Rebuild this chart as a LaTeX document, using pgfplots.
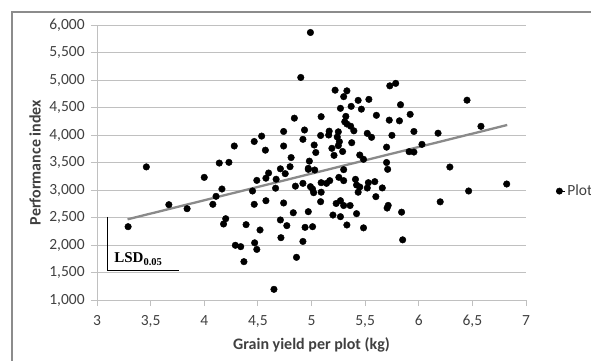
\documentclass[border=0pt]{standalone}
\usepackage{fontspec}
\setmainfont{Carlito}
\newfontfamily\lsdfont{Liberation Serif}
\usepackage{pgfplots}
\usepackage{pgfplotstable}
\pgfplotsset{compat=1.18}
\definecolor{gridgray}{HTML}{C0C0C0}
\definecolor{framegray}{HTML}{8C8C8C}
\definecolor{trendgray}{HTML}{8A8A8A}
\definecolor{ticktext}{HTML}{404040}
\pgfplotstableread{
x y
3.29 2333
3.46 3420
3.67 2733
3.84 2660
4.00 3230
4.08 2740
4.11 2885
4.165 3018
4.20 2478
4.18 2382
4.14 3490
4.23 3503
4.28 3800
4.29 1995
4.34 1970
4.37 1697
4.39 2370
4.47 2040
4.49 1920
4.52 2273
4.466 2740
4.45 2982
4.575 2805
4.49 3175
4.665 3033
4.65 1194
4.715 2133
4.71 2455
4.74 2764
4.77 2352
4.83 2587
4.86 1776
4.85 3070
4.92 2065
4.94 2321
5.01 2333
4.97 2606
5.085 2788
4.99 3061
5.01 3018
5.02 2951
5.09 2960
5.20 2545
5.27 2515
5.23 2755
5.27 2806
5.30 2718
5.36 2718
5.33 2364
5.42 2570
5.485 2312
5.435 2960
5.45 3055
5.52 3036
5.60 2879
5.66 3038
5.705 2672
5.715 2720
5.84 2597
5.85 2094
6.20 2785
6.465 2982
6.82 3109
4.466 3882
4.535 3980
4.57 3724
4.74 4064
4.74 3800
4.81 3590
4.84 4306
4.71 3385
4.80 3424
4.755 3297
4.60 3309
4.575 3215
4.67 3196
4.97 3394
4.92 3121
5.09 3133
5.14 3121
5.17 3170
4.98 3525
4.97 3376
5.03 3364
4.99 5864
4.90 5046
5.22 4815
5.33 4803
5.30 4697
5.435 4630
5.535 4648
5.73 4894
5.785 4939
6.45 4633
5.27 4485
5.37 4521
5.465 4470
5.83 4551
5.09 4333
5.32 4339
5.605 4358
5.725 4270
5.82 4258
5.92 4376
5.31 4240
5.33 4200
5.365 4160
5.395 4076
4.935 4091
4.92 3921
5.165 4070
5.25 4058
5.16 4000
5.085 3991
5.24 3964
5.26 3879
5.025 3818
5.04 3682
5.19 3758
5.21 3630
5.25 3806
5.29 3700
5.375 3860
5.52 4030
5.56 3958
5.75 3994
5.955 4064
6.18 4033
6.58 4158
5.45 3636
5.485 3558
5.70 3779
5.91 3697
5.955 3690
6.03 3830
6.29 3418
5.70 3500
5.71 3376
5.30 3370
5.255 3230
5.30 3170
5.41 3194
5.42 3091
5.53 3133
5.59 3152
}\plotdata
\begin{document}
\begin{tikzpicture}[x=1pt,y=1pt]
\useasboundingbox (0,0) rectangle (591,360);
\clip (0,0) rectangle (591,360);
\draw[color=framegray, line width=1.2pt] (12,-5) -- (12,348) -- (600,348);
\begin{axis}[
  at={(97pt,60pt)}, anchor=south west,
  scale only axis, width=429pt, height=275pt,
  xmin=3, xmax=7, ymin=1000, ymax=6000,
  xtick={3,3.5,4,4.5,5,5.5,6,6.5,7},
  xticklabels={3,{3,5},4,{4,5},5,{5,5},6,{6,5},7},
  ytick={1000,1500,2000,2500,3000,3500,4000,4500,5000,5500,6000},
  yticklabels={{1,000},{1,500},{2,000},{2,500},{3,000},{3,500},{4,000},{4,500},{5,000},{5,500},{6,000}},
  axis x line*=bottom, axis y line*=left,
  axis line style={-, gridgray, line width=0.9pt},
  ymajorgrids, grid style={gridgray, line width=0.9pt},
  tick style={gridgray, line width=0.9pt}, tick align=outside,
  major tick length=6pt,
  ticklabel style={font=\fontsize{15.5}{15.5}\selectfont, text=ticktext},
  xticklabel style={yshift=-5.6pt},
  yticklabel style={xshift=-2.8pt},
  xlabel={\textbf{Grain yield per plot (kg)}},
  ylabel={\textbf{Performance index}},
  every axis x label/.style={at={(axis description cs:0.5,-0.165)}, anchor=center,
    font=\fontsize{16}{16}\selectfont, text=ticktext},
  every axis y label/.style={at={(axis description cs:-0.1445,0.5)}, anchor=center, rotate=90,
    font=\fontsize{16}{16}\selectfont, text=ticktext},
  legend style={at={(axis description cs:1,0.396)}, anchor=west, xshift=29.8pt,
    draw=none, fill=none, inner sep=0pt,
    font=\fontsize{15.5}{15.5}\selectfont, text=ticktext},
  legend image code/.code={\fill[black] (3.2pt,0pt) circle (3.2pt); \path (0pt,0pt) -- (9pt,0pt);},
  clip=false,
]
\addplot[only marks, mark=*, mark size=3.3pt, mark options={fill=black, draw=black}]
  table[x=x, y=y] {\plotdata};
\addlegendentry{Plot}
\addplot[trendgray, line width=2.3pt, forget plot] coordinates {(3.285,2467) (6.825,4182)};
\addplot[black, line width=0.8pt, forget plot] coordinates {(3.096,2510) (3.096,1545) (3.765,1545)};
\node[anchor=base west, inner sep=0pt, font=\lsdfont\bfseries\fontsize{15}{15}\selectfont]
  at (axis cs:3.16,1673) {LSD\textsubscript{0.05}};
\end{axis}
\end{tikzpicture}
\end{document}
